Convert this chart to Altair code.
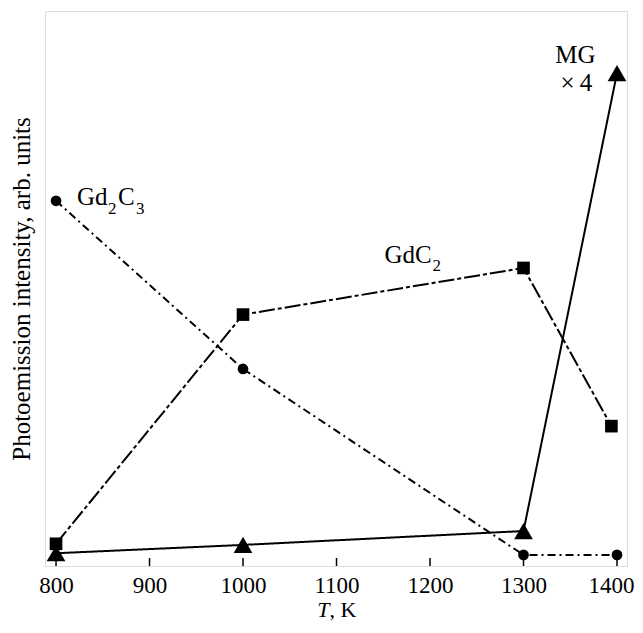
import altair as alt
import pandas as pd

# Data (arbitrary units, 0-100)
temps = [800, 1000, 1300, 1400]
gd2c3 = [65.8, 35.5, 2.0, 2.0]
gdc2_T = [800, 1000, 1300, 1394]
gdc2 = [4.0, 45.3, 53.7, 25.2]
mg = [2.3, 3.8, 6.3, 88.8]
tick_values = [800, 900, 1000, 1100, 1200, 1300, 1400]

W, H = 582, 555
FONT = "Liberation Serif"

df_c = pd.DataFrame({"T": temps, "I": gd2c3})
df_s = pd.DataFrame({"T": gdc2_T, "I": gdc2})
df_m = pd.DataFrame({"T": temps, "I": mg})
df_t = pd.DataFrame({"T": tick_values})

xs = alt.Scale(domain=[788.2, 1410.7], nice=False, zero=False)
ys = alt.Scale(domain=[0, 100], nice=False, zero=False)

xax = alt.Axis(values=tick_values, format="d", tickSize=0, labelFont=FONT, labelFontSize=23,
               labelColor="black", labelPadding=8, domain=False, grid=False, title=None,
               labelOffset={"condition": {"test": "datum.value === 1400", "value": -6}, "value": 0})
yax = alt.Axis(labels=False, ticks=False, domain=False, grid=False,
               title="Photoemission intensity, arb. units", titleFont=FONT, titleFontSize=25,
               titleFontWeight="normal", titleColor="black", titlePadding=11)

X = alt.X("T:Q", scale=xs, axis=xax)
Y = alt.Y("I:Q", scale=ys, axis=yax)


def series(df, dash, shape, size):
    line = alt.Chart(df).mark_line(color="black", strokeWidth=2, strokeDash=dash).encode(x=X, y=Y)
    pts = alt.Chart(df).mark_point(shape=shape, filled=True, color="black", opacity=1,
                                   size=size).encode(x=X, y=Y)
    return line + pts


c_layer = series(df_c, [8, 4, 2, 4], "circle", 115)
s_layer = series(df_s, [16, 3, 4, 3], "square", 160)
m_layer = series(df_m, [1, 0], "triangle-up", 350)

ticks = alt.Chart(df_t).mark_rule(color="black", strokeWidth=1.5).encode(
    x=alt.X("T:Q", scale=xs), y=alt.value(H), y2=alt.value(H - 8))

# Label anchors (data coordinates) and pieces
label_anchor = {"Gd2C3": (822.5, 65.05), "GdC2": (1151.4, 54.6), "MG": (1355.5, 90.6), "x4": (1355.5, 85.6)}


def piece(name, text, size, dx=0, dy=0, align="left", style="normal"):
    t, i = label_anchor[name]
    d = pd.DataFrame({"T": [t], "I": [i], "txt": [text]})
    return alt.Chart(d).mark_text(font=FONT, fontSize=size, align=align, baseline="alphabetic",
                                  color="black", dx=dx, dy=dy, fontStyle=style).encode(
        x=alt.X("T:Q", scale=xs), y=alt.Y("I:Q", scale=ys), text="txt:N")


labels = [
    piece("Gd2C3", "Gd", 25),
    piece("Gd2C3", "2", 17, dx=31, dy=9),
    piece("Gd2C3", "C", 25, dx=41),
    piece("Gd2C3", "3", 17, dx=59, dy=9),
    piece("GdC2", "GdC", 25),
    piece("GdC2", "2", 17, dx=48, dy=8),
    piece("MG", "MG", 25, align="center"),
    piece("x4", "\u00d7\u20094", 25, align="center", dx=1),
]

title_df = pd.DataFrame({"T": [1100], "a": ["T"], "b": [", K"]})
t1 = alt.Chart(title_df).mark_text(font=FONT, fontSize=22, fontStyle="italic", align="right",
                                   baseline="alphabetic", color="black", dx=-7).encode(
    x=alt.X("T:Q", scale=xs), y=alt.value(H + 51), text="a:N")
t2 = alt.Chart(title_df).mark_text(font=FONT, fontSize=22, align="left", baseline="alphabetic",
                                   color="black", dx=-7).encode(
    x=alt.X("T:Q", scale=xs), y=alt.value(H + 51), text="b:N")

chart = alt.layer(ticks, c_layer, s_layer, m_layer, *labels, t1, t2).properties(
    width=W, height=H,
    autosize=alt.AutoSizeParams(type="none"),
    padding={"left": 37, "top": 3, "right": 8, "bottom": 56},
).configure_view(stroke="black", strokeWidth=2).configure(background="white")

chart.save("out.html", embed_options={"renderer": "svg", "actions": False})
